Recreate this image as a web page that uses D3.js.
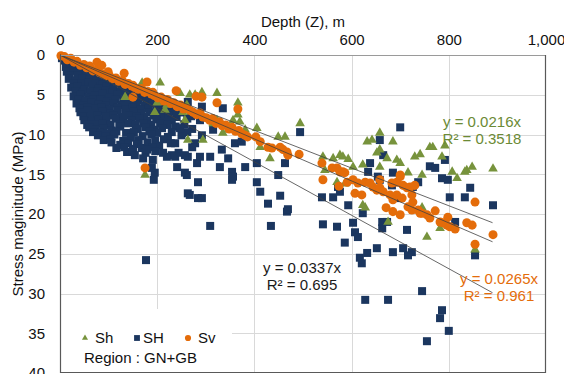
<!DOCTYPE html>
<html>
<head>
<meta charset="utf-8">
<script src="https://cdn.jsdelivr.net/npm/d3@7"></script>
<style>
  html, body { margin: 0; padding: 0; background: #fff; }
  svg { display: block; font-family: "Liberation Sans", Arial, sans-serif; }
</style>
</head>
<body>
<svg id="chart" width="564" height="374"></svg>
<script>
// ── data: [depth m, stress MPa] ───────────────────────────────────────────
const X_TICKS = [0, 200, 400, 600, 800, 1000];
const Y_TICKS = [0, 5, 10, 15, 20, 25, 30, 35, 40];

// SH – dense fan near the origin, then scattered points
const SH_PTS = [
  [4,0.4],[10,0.7],[17,0.9],[24,0.8],[31,1.1],[12,1.5],[21,1.6],[37,1.3],
  [14,2.1],[27,2.0],[40,2.2],[52,1.9],[63,2.1],[72,2.3],
  [20,2.6],[36,2.6],[54,2.5],[70,2.6],[86,2.7],
  [18,3.0],[32,3.2],[46,2.9],[60,3.1],[76,3.0],[90,3.2],[104,2.9],[114,3.3],
  [28,3.6],[44,3.6],[58,3.5],[74,3.6],[88,3.7],[102,3.6],[118,3.5],[132,3.6],
  [23,4.1],[36,4.0],[50,4.3],[66,3.9],[80,4.2],[96,4.0],[110,4.3],[126,3.9],[140,4.2],[150,4.4],
  [32,4.6],[46,4.7],[62,4.6],[78,4.6],[94,4.5],[108,4.7],[124,4.6],[140,4.6],[156,4.7],[168,4.7],
  [28,5.2],[42,5.0],[58,5.3],[72,5.1],[88,4.9],[102,5.3],[118,5.0],[134,5.2],[150,5.1],[166,5.3],[182,5.4],
  [38,5.6],[52,5.7],[68,5.6],[84,5.6],[98,5.8],[114,5.6],[130,5.7],[146,5.6],[162,5.7],[178,5.8],[196,5.7],[208,5.8],
  [34,6.1],[48,6.3],[64,6.0],[80,6.2],[94,6.4],[110,6.1],[126,6.3],[142,6.0],[158,6.2],[174,6.4],[190,6.1],[206,6.3],[220,6.4],
  [40,6.7],[56,6.6],[72,6.7],[86,6.6],[102,6.8],[118,6.6],[134,6.8],[150,6.6],[166,6.8],[182,6.7],[198,6.6],[214,6.8],[230,6.7],[244,6.8],
  [42,7.2],[56,7.0],[72,7.3],[88,7.1],[104,7.4],[118,7.0],[136,7.3],[152,7.1],[168,7.4],[184,7.2],[200,7.0],[216,7.3],[232,7.1],[250,7.2],
  [48,7.7],[62,7.8],[78,7.6],[94,7.7],[110,7.6],[126,7.8],[142,7.6],[158,7.7],[174,7.8],[192,7.6],[208,7.7],[224,7.6],[240,7.8],[270,7.7],
  [50,8.2],[64,8.4],[80,8.1],[96,8.3],[114,8.0],[130,8.4],[148,8.2],[164,8.0],[180,8.3],[198,8.1],[214,8.4],[230,8.2],[262,8.0],
  [56,8.8],[72,8.7],[88,8.6],[104,8.8],[122,8.7],[140,8.6],[156,8.8],[172,8.6],[188,8.8],[206,8.6],[222,8.8],[256,8.7],
  [60,9.1],[74,9.4],[90,9.2],[106,9.5],[124,9.0],[160,9.3],[176,9.1],[194,9.4],[210,9.2],[238,9.0],[272,9.3],
  [68,9.7],[84,9.8],[98,9.9],[116,9.6],[136,9.8],[152,9.7],[184,9.6],[200,9.8],[230,9.7],[262,9.7],
  [78,10.1],[94,10.3],[112,10.0],[146,10.4],[170,10.2],[188,10.0],[222,10.3],[250,10.1],
  [90,10.7],[104,10.6],[130,10.8],[162,10.7],[196,10.8],[214,10.6],
  [106,11.0],[124,11.3],[140,11.1],[158,11.2],[180,11.0],[204,11.4],[228,11.1],
  [116,11.7],[132,11.6],[150,11.8],[168,11.7],[190,11.6],
  [138,12.2],[150,12.0],[176,12.3],[196,12.1],[244,12.3],
  [179,11.9],[191,13.2],[195,14.8],[189,14.2],[230,12.6],[241,14.1],[263,12.8],[261,15.1],
  [284,16.0],[263,17.4],[212,12.3],[220,12.8],[282,13.6],[251,9.8],[251,7.2],[177,25.8],
  [193,15.7],[284,18.0],[263,5.9],[292,6.5],[335,6.7],[288,8.2],[315,9.4],[292,10.1],
  [278,11.1],[257,14.8],[288,12.8],[309,12.8],[333,11.9],[346,13.0],[329,14.1],[354,14.7],
  [356,15.3],[381,14.1],[360,11.1],[374,10.9],[405,13.6],[405,16.0],[412,17.2],[449,15.1],
  [463,13.6],[494,9.7],[267,17.6],[292,18.0],[539,17.9],[562,17.9],[576,17.2],[638,13.6],
  [654,15.3],[354,15.7],[428,18.7],[453,17.7],[467,19.7],[469,19.4],[309,21.5],[434,21.5],
  [593,18.9],[541,21.3],[570,21.6],[586,23.6],[603,21.1],[607,22.3],[613,22.9],[632,24.9],
  [617,25.5],[621,26.2],[652,24.3],[628,30.8],[623,19.9],[658,15.7],[683,16.4],[737,16.0],
  [798,15.7],[844,16.7],[802,17.9],[833,17.9],[891,18.9],[663,21.0],[673,21.0],[663,21.8],
  [714,22.0],[813,21.0],[854,25.2],[685,24.8],[706,24.3],[724,24.8],[716,25.2],[675,30.8],
  [745,29.7],[786,32.1],[782,33.1],[800,34.7],[755,36.0],[700,9.1],[658,10.7],[665,12.6],
  [685,14.8],[634,14.7],[761,14.0],[772,14.2],[792,13.2],[786,15.5],[726,16.6],[700,18.0],
  [572,16.6],[171,13.0],[154,12.6],[237,12.8],[247,9.2],[272,11.6],[237,11.1],[257,12.6]
];

// Sh
const SHMIN_PTS = [
  [206,3.5],[134,5.3],[247,4.8],[267,5.0],[216,6.9],[257,8.2],[263,10.7],[175,15.1],
  [220,6.3],[261,6.3],[169,3.5],[200,6.0],[195,7.2],[278,5.0],[292,4.7],[323,4.8],
  [366,6.0],[366,7.5],[370,8.4],[356,8.2],[323,8.2],[315,8.6],[253,7.2],[294,10.7],
  [335,9.8],[346,9.4],[381,9.4],[405,9.2],[412,11.6],[432,13.0],[449,10.3],[463,10.3],
  [494,8.6],[541,12.8],[545,14.5],[562,13.0],[576,12.6],[582,12.8],[593,13.1],[603,14.1],
  [623,13.8],[632,10.9],[642,10.7],[652,12.3],[658,11.9],[586,16.2],[658,9.8],[685,10.9],
  [673,13.0],[658,14.1],[693,13.2],[700,13.6],[730,12.8],[741,12.5],[761,11.6],[767,11.6],
  [792,11.4],[786,12.8],[807,14.7],[817,15.5],[837,14.5],[848,14.1],[891,14.3],[716,14.8],
  [745,15.1],[833,14.7],[745,19.2],[782,21.8],[755,22.9],[854,24.5],[675,21.0],[628,19.2],
  [570,16.0],[623,18.9]
];

// Sv – tight band from the origin, then points along the trend
const SV_PTS = [
  [2,0.1],[9,0.2],[15,0.6],[22,0.4],[29,0.9],[35,0.8],[42,1.3],[49,1.2],[55,1.6],[61,1.4],
  [68,2.0],[75,1.9],[81,2.2],[88,2.4],[95,2.6],[101,2.5],[108,3.0],[115,2.9],[121,3.3],[128,3.2],
  [134,3.7],[141,3.6],[148,3.9],[154,4.1],[161,4.3],[168,4.2],[174,4.7],[181,4.6],[188,4.9],[194,5.1],
  [201,5.4],[208,5.3],[214,5.8],[221,5.6],[228,6.1],[234,6.0],[241,6.5],[248,6.3],[254,6.8],[261,6.7],
  [268,7.0],[274,7.2],[281,7.5],[288,7.3],[294,7.8],[301,7.9],[308,8.2],[314,8.0],[321,8.6],[328,8.4],
  [334,8.9],[341,8.8],[348,9.3],[354,9.1],[361,9.6],[368,9.5],[374,9.9],[381,10.1],[386,10.3],
  [76,0.9],[86,1.3],[99,2.1],[132,2.3],[150,3.8],[179,3.4],[150,5.3],[191,4.7],[239,4.5],
  [280,5.2],[175,14.2],[292,5.3],[323,6.0],[366,6.8],[403,10.3],[412,10.9],[428,11.6],[436,11.7],
  [453,11.6],[459,11.9],[467,12.2],[469,12.6],[492,12.5],[539,13.6],[541,15.7],[560,14.2],
  [570,14.2],[576,14.7],[582,14.7],[574,16.5],[603,15.7],[613,16.1],[607,17.4],[621,17.6],
  [628,16.0],[638,16.1],[644,16.6],[652,17.0],[658,16.7],[665,17.2],[679,17.6],[693,17.6],
  [685,18.2],[704,18.0],[671,19.2],[685,19.7],[700,20.1],[716,19.1],[724,19.5],[726,18.5],
  [737,19.5],[745,19.9],[755,20.1],[761,20.5],[772,19.6],[782,21.0],[788,21.1],[796,21.4],
  [802,21.6],[813,21.9],[798,20.4],[837,21.1],[848,21.4],[854,18.5],[854,23.8],[891,22.6],
  [693,16.0],[706,16.4],[724,17.6],[700,15.3],[714,16.7],[658,15.7],[683,16.1],[700,15.1],
  [720,16.6],[730,16.4],[586,14.8],[591,16.0],[741,19.9]
];

// trendlines through the origin (slope as drawn) and their labels
const TREND_NAMES  = ['Sh', 'SH', 'Sv'];
const TREND_SLOPES = [0.0237, 0.0336, 0.0264];
const TREND_END    = 890;
const TREND_EQ     = ['y = 0.0216x', 'y = 0.0337x', 'y = 0.0265x'];
const TREND_R2     = ['R² = 0.3518', 'R² = 0.695', 'R² = 0.961'];

// ── style ──────────────────────────────────────────────────────────────────
const GREEN  = '#77933C';
const NAVY   = '#1B365F';
const ORANGE = '#E46C0A';
const GRID   = '#D9D9D9';

const svg = d3.select('#chart');
const W = 564, H = 374;
const plot = { left: 60, right: 546, top: 55, bottom: 373 };

const x = d3.scaleLinear().domain([0, 1000]).range([plot.left, plot.right]);
const y = d3.scaleLinear().domain([0, 40]).range([plot.top, plot.bottom]);

svg.append('rect').attr('width', W).attr('height', H).attr('fill', '#fff');

// ── grid ──────────────────────────────────────────────────────────────────
const grid = svg.append('g').attr('stroke', GRID).attr('stroke-width', 1);
grid.selectAll('line.v')
  .data(X_TICKS.slice(1, -1))
  .join('line')
    .attr('x1', d => Math.round(x(d)) + 0.5).attr('x2', d => Math.round(x(d)) + 0.5)
    .attr('y1', plot.top).attr('y2', plot.bottom);
grid.selectAll('line.h')
  .data(Y_TICKS.slice(1, -1))
  .join('line')
    .attr('y1', d => Math.round(y(d)) + 0.5).attr('y2', d => Math.round(y(d)) + 0.5)
    .attr('x1', plot.left).attr('x2', plot.right);

// ── axes ──────────────────────────────────────────────────────────────────
const xAxis = svg.append('g')
  .attr('transform', `translate(0,${plot.top})`)
  .call(d3.axisTop(x).tickValues(X_TICKS).tickSize(0).tickPadding(10).tickFormat(d3.format(',')));
const yAxis = svg.append('g')
  .attr('transform', `translate(${plot.left},0)`)
  .call(d3.axisLeft(y).tickValues(Y_TICKS).tickSize(0).tickPadding(15));
[xAxis, yAxis].forEach(g => {
  g.select('.domain').remove();
  g.selectAll('text')
    .attr('font-family', '"Liberation Sans", Arial, sans-serif')
    .attr('font-size', 15).attr('fill', '#111');
});

svg.append('text')
  .attr('x', (plot.left + plot.right) / 2).attr('y', 27)
  .attr('text-anchor', 'middle').attr('font-size', 15).attr('fill', '#111')
  .text('Depth (Z), m');
svg.append('text')
  .attr('transform', `translate(23,${(plot.top + plot.bottom) / 2}) rotate(-90)`)
  .attr('text-anchor', 'middle').attr('font-size', 15).attr('fill', '#111')
  .text('Stress maginitude (MPa)');

// ── markers ───────────────────────────────────────────────────────────────
const layer = svg.append('g');
const drawSeries = (pts, type, size, color) => layer.append('g')
  .selectAll('path')
  .data(pts)
  .join('path')
    .attr('transform', d => `translate(${x(d[0])},${y(d[1])})`)
    .attr('d', d3.symbol().type(type).size(size))
    .attr('fill', color);

drawSeries(SH_PTS, d3.symbolSquare, 64, NAVY);
drawSeries(SHMIN_PTS, d3.symbolTriangle, 40, GREEN);
drawSeries(SV_PTS, d3.symbolCircle, 64, ORANGE);

// ── trendlines ────────────────────────────────────────────────────────────
svg.append('g')
  .selectAll('line')
  .data(TREND_SLOPES)
  .join('line')
    .attr('x1', x(0)).attr('y1', y(0))
    .attr('x2', x(TREND_END)).attr('y2', d => y(d * TREND_END))
    .attr('stroke', '#404040').attr('stroke-width', 0.8);

// equation labels
const labelPos = [
  { cx: 482, y: 127, color: '#6B8A35' },
  { cx: 302, y: 273, color: '#1a1a1a' },
  { cx: 499, y: 284, color: ORANGE }
];
TREND_NAMES.forEach((n, i) => {
  const p = labelPos[i];
  const t = svg.append('text')
    .attr('text-anchor', 'middle').attr('font-size', 15).attr('fill', p.color);
  t.append('tspan').attr('x', p.cx).attr('y', p.y).text(TREND_EQ[i]);
  t.append('tspan').attr('x', p.cx).attr('y', p.y + 17).text(TREND_R2[i]);
});

// ── legend ────────────────────────────────────────────────────────────────
svg.append('rect')
  .attr('x', plot.left + 1).attr('y', 309).attr('width', 171).attr('height', plot.bottom - 309)
  .attr('fill', '#fff');

const legendItems = [
  { name: 'Sh', type: d3.symbolTriangle, size: 16, color: GREEN,  mx: 85,  tx: 95 },
  { name: 'SH', type: d3.symbolSquare,   size: 34, color: NAVY,   mx: 137, tx: 143 },
  { name: 'Sv', type: d3.symbolCircle,   size: 30, color: ORANGE, mx: 188, tx: 198 }
];
const lg = svg.append('g');
legendItems.forEach(it => {
  lg.append('path')
    .attr('transform', `translate(${it.mx},338)`)
    .attr('d', d3.symbol().type(it.type).size(it.size))
    .attr('fill', it.color);
  lg.append('text')
    .attr('x', it.tx).attr('y', 343).attr('font-size', 15).attr('fill', '#111')
    .text(it.name);
});
lg.append('text')
  .attr('x', 84).attr('y', 363).attr('font-size', 15).attr('fill', '#111')
  .text('Region : GN+GB');

// ── frame ─────────────────────────────────────────────────────────────────
svg.append('line')
  .attr('x1', plot.left).attr('x2', plot.right).attr('y1', plot.top + 0.5).attr('y2', plot.top + 0.5)
  .attr('stroke', '#9a9a9a');
svg.append('path')
  .attr('d', `M${plot.left + 0.5},${plot.top}V${plot.bottom - 0.5}H${plot.right - 0.5}V${plot.top}`)
  .attr('fill', 'none').attr('stroke', '#595959').attr('stroke-width', 1.2);
</script>
</body>
</html>
